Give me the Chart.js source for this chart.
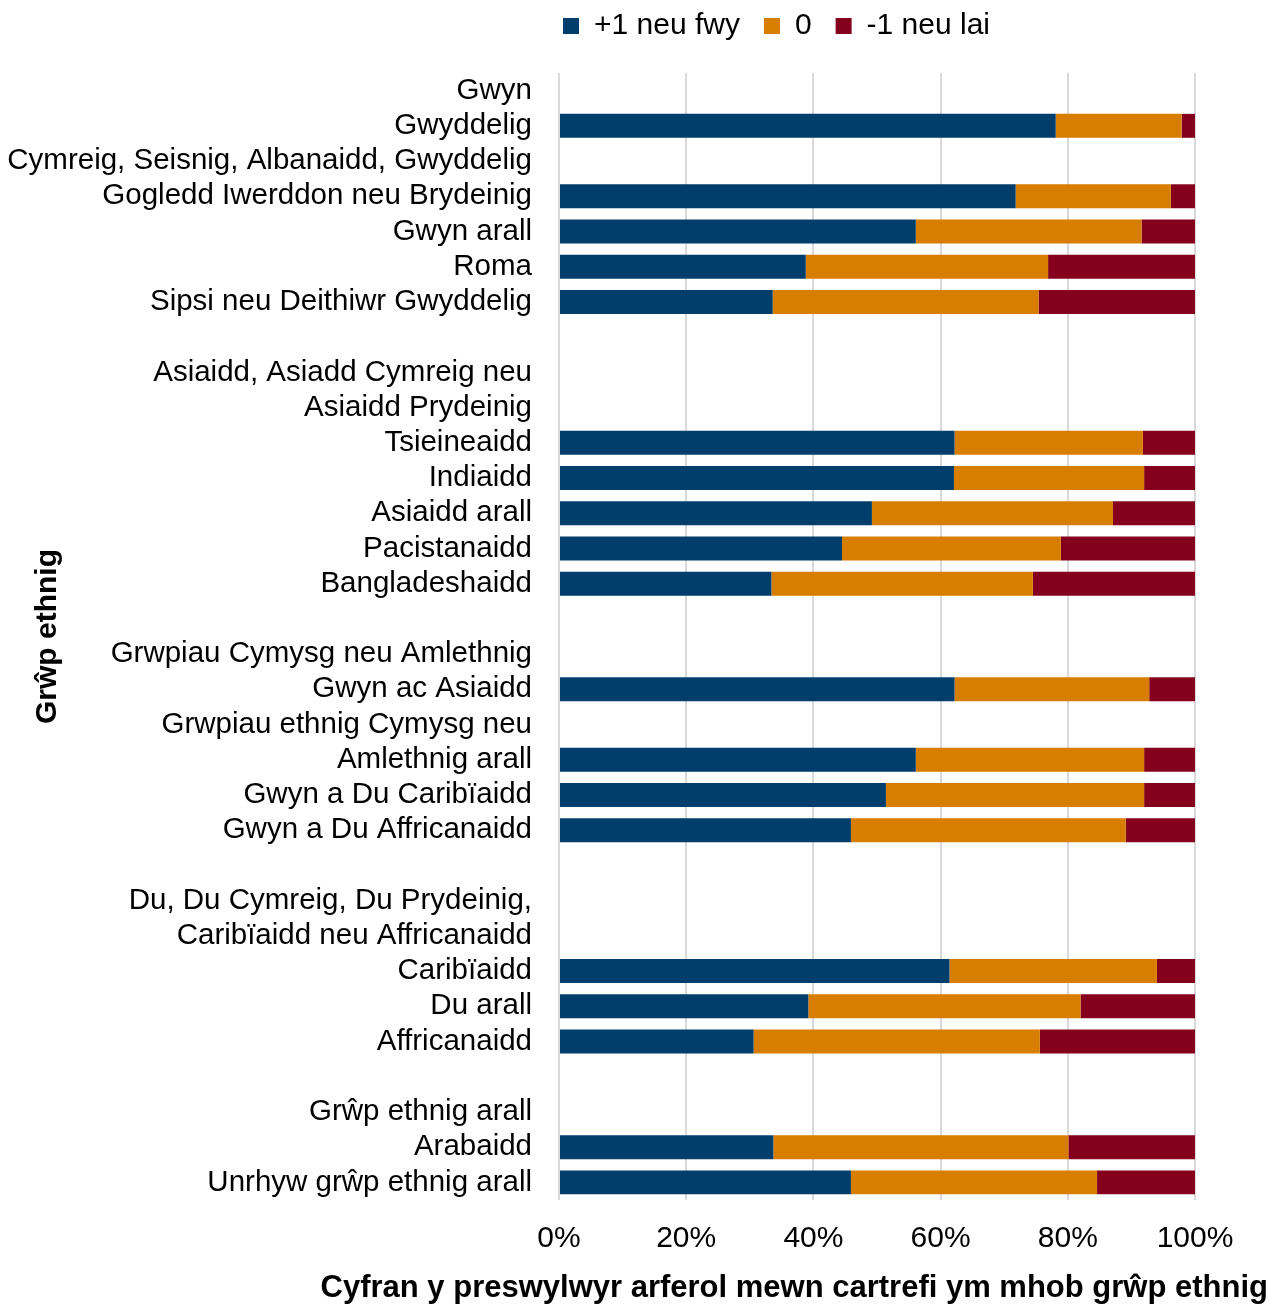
<!DOCTYPE html>
<html>
<head>
<meta charset="utf-8">
<script src="https://cdn.jsdelivr.net/npm/chart.js@4.4.1/dist/chart.umd.min.js"></script>
<style>
    body { margin: 0; background: #fff; }
    #wrap { width: 1279px; height: 1304px; }
</style>
</head>
<body>
<div id="wrap"><canvas id="chart"></canvas></div>
<script>
// one entry per row, blank rows / group headings have no bar
const groups = [
    'Gwyn',
    'Gwyddelig',
    'Cymreig, Seisnig, Albanaidd, Gwyddelig',
    'Gogledd Iwerddon neu Brydeinig',
    'Gwyn arall',
    'Roma',
    'Sipsi neu Deithiwr Gwyddelig',
    '',
    'Asiaidd, Asiadd Cymreig neu',
    'Asiaidd Prydeinig',
    'Tsieineaidd',
    'Indiaidd',
    'Asiaidd arall',
    'Pacistanaidd',
    'Bangladeshaidd',
    '',
    'Grwpiau Cymysg neu Amlethnig',
    'Gwyn ac Asiaidd',
    'Grwpiau ethnig Cymysg neu',
    'Amlethnig arall',
    'Gwyn a Du Caribïaidd',
    'Gwyn a Du Affricanaidd',
    '',
    'Du, Du Cymreig, Du Prydeinig,',
    'Caribïaidd neu Affricanaidd',
    'Caribïaidd',
    'Du arall',
    'Affricanaidd',
    '',
    'Grŵp ethnig arall',
    'Arabaidd',
    'Unrhyw grŵp ethnig arall'
];

const plusOne = [null, 78.1, null, 71.8, 56.1, 38.8, 33.6, null, null, null,
    62.2, 62.1, 49.2, 44.5, 33.4, null, null, 62.2, null, 56.1, 51.4, 45.9,
    null, null, null, 61.4, 39.2, 30.6, null, null, 33.7, 45.9];

const zero = [null, 19.8, null, 24.4, 35.5, 38.1, 41.8, null, null, null,
    29.6, 29.9, 37.9, 34.4, 41.1, null, null, 30.6, null, 35.9, 40.6, 43.2,
    null, null, null, 32.6, 42.8, 45.0, null, null, 46.4, 38.7];

const minusOne = [null, 2.1, null, 3.8, 8.4, 23.1, 24.6, null, null, null,
    8.2, 8.0, 12.9, 21.1, 25.5, null, null, 7.2, null, 8.0, 8.0, 10.9,
    null, null, null, 6.0, 18.0, 24.4, null, null, 19.9, 15.4];

const seriesNames = ['+1 neu fwy', '0', '-1 neu lai'];
const xTicks = [0, 20, 40, 60, 80, 100];

const xTitle = 'Cyfran y preswylwyr arferol mewn cartrefi ym mhob grŵp ethnig';
const yTitle = 'Grŵp ethnig';

const FONT = '"Liberation Sans", Arial, sans-serif';
Chart.defaults.font.family = FONT;
Chart.defaults.color = '#000';

// legend: a little extra room below, then nudge it up/left into place
const legendPlace = {
    id: 'legendPlace',
    beforeInit(chart) {
        const fit = chart.legend.fit;
        chart.legend.fit = function () {
            fit.bind(chart.legend)();
            this.height += 9;
        };
    },
    afterLayout(chart) {
        const lg = chart.legend;
        lg.top -= 13; lg.bottom -= 13;
        lg.left -= 20; lg.right -= 20;
    }
};

// x title sits off-centre, to the right, like the original
const xTitlePlugin = {
    id: 'xTitle',
    afterDraw(chart) {
        const ctx = chart.ctx;
        ctx.save();
        ctx.font = 'bold 31px ' + FONT;
        ctx.fillStyle = '#000';
        ctx.textAlign = 'right';
        ctx.textBaseline = 'middle';
        ctx.fillText(xTitle, chart.width - 11, chart.chartArea.bottom + 88);
        ctx.restore();
    }
};

new Chart(document.getElementById('chart'), {
    type: 'bar',
    data: {
        labels: groups,
        datasets: [
            { label: seriesNames[0], data: plusOne, backgroundColor: '#023e6b' },
            { label: seriesNames[1], data: zero, backgroundColor: '#d77d00' },
            { label: seriesNames[2], data: minusOne, backgroundColor: '#85001d' }
        ]
    },
    options: {
        indexAxis: 'y',
        responsive: true,
        maintainAspectRatio: false,
        animation: false,
        barPercentage: 0.68,
        categoryPercentage: 1,
        layout: { padding: { left: 0, right: 84, top: 0, bottom: 26 } },
        plugins: {
            legend: {
                position: 'top',
                align: 'start',
                fullSize: false,
                labels: {
                    font: { size: 30 },
                    boxWidth: 16,
                    boxHeight: 16,
                    padding: 24
                }
            },
            tooltip: { enabled: false }
        },
        scales: {
            x: {
                stacked: true,
                min: 0,
                max: 100,
                afterBuildTicks(scale) {
                    scale.ticks = xTicks.map(v => ({ value: v }));
                },
                ticks: {
                    font: { size: 30 },
                    padding: 21,
                    callback: v => v + '%'
                },
                grid: { color: '#d9d9d9', lineWidth: 2, drawTicks: false },
                border: { display: false }
            },
            y: {
                stacked: true,
                afterFit(scale) { scale.width = 559; },
                ticks: { font: { size: 29.5 }, padding: 19, autoSkip: false },
                grid: { display: false },
                border: { display: false },
                title: {
                    display: true,
                    text: yTitle,
                    font: { size: 30, weight: 'bold' },
                    padding: { top: 30, bottom: 0 }
                }
            }
        }
    },
    plugins: [legendPlace, xTitlePlugin]
});
</script>
</body>
</html>
